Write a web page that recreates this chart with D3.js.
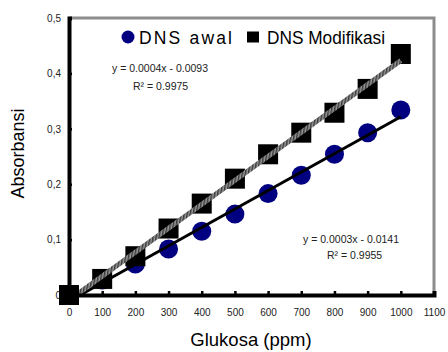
<!DOCTYPE html>
<html>
<head>
<meta charset="utf-8">
<script src="https://cdn.jsdelivr.net/npm/d3@7"></script>
<style>
  body { margin: 0; background: #fff; }
  text { font-family: "Liberation Sans", Arial, sans-serif; }
</style>
</head>
<body>
<script>
// data
const glukosa = [0, 100, 200, 300, 400, 500, 600, 700, 800, 900, 1000];
const dnsAwal = [0, 0.027, 0.056, 0.083, 0.115, 0.146, 0.183, 0.216, 0.254, 0.293, 0.334];
const dnsModif = [0, 0.029, 0.07, 0.12, 0.165, 0.21, 0.254, 0.293, 0.329, 0.372, 0.435];
const xTicks = [0, 100, 200, 300, 400, 500, 600, 700, 800, 900, 1000, 1100];
const yTicks = [0, 0.1, 0.2, 0.3, 0.4, 0.5];
const eqModif = ['y = 0.0004x - 0.0093', 'R² = 0.9975'];
const eqAwal = ['y = 0.0003x - 0.0141', 'R² = 0.9955'];

const W = 448, H = 352;
const margin = { top: 18, right: 14, bottom: 57, left: 69 };
const width = W - margin.left - margin.right;
const height = H - margin.top - margin.bottom;

const svg = d3.select('body').append('svg')
  .attr('width', W)
  .attr('height', H);

const defs = svg.append('defs');
const pat = defs.append('pattern')
  .attr('id', 'hatch')
  .attr('patternUnits', 'userSpaceOnUse')
  .attr('width', 3).attr('height', 3)
  .attr('patternTransform', 'rotate(45)');
pat.append('rect').attr('width', 3).attr('height', 3).attr('fill', '#9a9a9a');
pat.append('rect').attr('width', 1.5).attr('height', 3).attr('fill', '#3a3a3a');

const g = svg.append('g')
  .attr('transform', `translate(${margin.left},${margin.top})`);

const x = d3.scaleLinear().domain([0, 1100]).range([0, width]);
const y = d3.scaleLinear().domain([0, 0.5]).range([height, 0]);

// gray frame top/right
g.append('path')
  .attr('d', `M0,0H${width}V${height}`)
  .attr('fill', 'none')
  .attr('stroke', '#8c8c8c')
  .attr('stroke-width', 3);

// linear fits
function fit(xs, ys) {
  const mx = d3.mean(xs), my = d3.mean(ys);
  const b = d3.sum(xs, (v, i) => (v - mx) * (ys[i] - my)) / d3.sum(xs, v => (v - mx) ** 2);
  return { b, a: my - b * mx };
}
const fA = fit(glukosa, dnsAwal);
const fM = fit(glukosa, dnsModif);

function fitLine(f) {
  let x0 = 0;
  if (f.a < 0) x0 = -f.a / f.b;
  return [[x0, f.a + f.b * x0], [1000, f.a + f.b * 1000]];
}
const line = d3.line().x(d => x(d[0])).y(d => y(d[1]));

// circles (DNS awal)
g.selectAll('circle.awal')
  .data(glukosa.map((v, i) => [v, dnsAwal[i]]))
  .enter().append('circle')
  .attr('class', 'awal')
  .attr('cx', d => x(d[0]))
  .attr('cy', d => y(d[1]))
  .attr('r', 9.5)
  .attr('fill', '#000080');

g.append('path')
  .attr('d', line(fitLine(fA)))
  .attr('stroke', '#000')
  .attr('stroke-width', 3)
  .attr('fill', 'none');

// squares (DNS Modifikasi)
const s = 20;
g.selectAll('rect.modif')
  .data(glukosa.map((v, i) => [v, dnsModif[i]]))
  .enter().append('rect')
  .attr('class', 'modif')
  .attr('x', d => x(d[0]) - s / 2)
  .attr('y', d => y(d[1]) - s / 2)
  .attr('width', s)
  .attr('height', s)
  .attr('fill', '#000');

// hatched trend line for Modifikasi, drawn as a thick band
const lm = fitLine(fM);
const x1 = x(lm[0][0]), y1 = y(lm[0][1]), x2 = x(lm[1][0]), y2 = y(lm[1][1]);
const len = Math.hypot(x2 - x1, y2 - y1);
const ang = Math.atan2(y2 - y1, x2 - x1) * 180 / Math.PI;
g.append('rect')
  .attr('x', 0).attr('y', -2.5)
  .attr('width', len).attr('height', 5)
  .attr('fill', 'url(#hatch)')
  .attr('transform', `translate(${x1},${y1}) rotate(${ang})`);

// axes
const xAxis = g.append('g')
  .attr('transform', `translate(0,${height})`)
  .call(d3.axisBottom(x).tickValues(xTicks).tickSize(-4).tickPadding(14)
    .tickFormat(d => d3.format('d')(d)));
const yAxis = g.append('g')
  .call(d3.axisLeft(y).tickValues(yTicks).tickSize(-3).tickPadding(8)
    .tickFormat(d => d === 0 ? '0' : d3.format('.1f')(d).replace('.', ',')));

[xAxis, yAxis].forEach(a => {
  a.select('.domain').attr('stroke', '#000').attr('stroke-width', 4);
  a.selectAll('.tick line').attr('stroke', '#000').attr('stroke-width', 2.5);
  a.selectAll('.tick text').attr('font-size', 10).attr('fill', '#222')
    .style('font-family', '"Liberation Sans", Arial, sans-serif');
});
xAxis.selectAll('.tick text').attr('dy', '0.71em');

// redraw first square on top of axes (as in reference)
g.append('rect')
  .attr('x', x(glukosa[0]) - s / 2)
  .attr('y', y(dnsModif[0]) - s / 2)
  .attr('width', s).attr('height', s)
  .attr('fill', '#000');

// legend
const leg = svg.append('g').attr('transform', 'translate(128,37)');
leg.append('circle').attr('cx', 0).attr('cy', 0).attr('r', 6.5).attr('fill', '#000080');
leg.append('text').attr('x', 11).attr('y', 6.5).attr('font-size', 17.5)
  .attr('textLength', 93).attr('lengthAdjust', 'spacing').text('DNS awal');
leg.append('rect').attr('x', 119).attr('y', -5.5).attr('width', 12).attr('height', 11).attr('fill', '#000');
leg.append('text').attr('x', 139).attr('y', 6.5).attr('font-size', 17.5)
  .attr('textLength', 118).attr('lengthAdjust', 'spacingAndGlyphs').text('DNS Modifikasi');

// equations
const eqStyle = t => t.attr('font-size', 10.5).attr('fill', '#222');
svg.append('text').attr('x', 112).attr('y', 72).call(eqStyle).text(eqModif[0]);
svg.append('text').attr('x', 133).attr('y', 90).call(eqStyle).text(eqModif[1]);
svg.append('text').attr('x', 303).attr('y', 243).call(eqStyle).text(eqAwal[0]);
svg.append('text').attr('x', 327).attr('y', 259).call(eqStyle).text(eqAwal[1]);

// axis titles
svg.append('text')
  .attr('x', 251).attr('y', 346).attr('font-size', 18.5)
  .attr('text-anchor', 'middle')
  .text('Glukosa (ppm)');
svg.append('text')
  .attr('transform', `translate(24,${margin.top + height / 2 - 3}) rotate(-90)`)
  .attr('text-anchor', 'middle').attr('font-size', 18)
  .text('Absorbansi');
</script>
</body>
</html>
